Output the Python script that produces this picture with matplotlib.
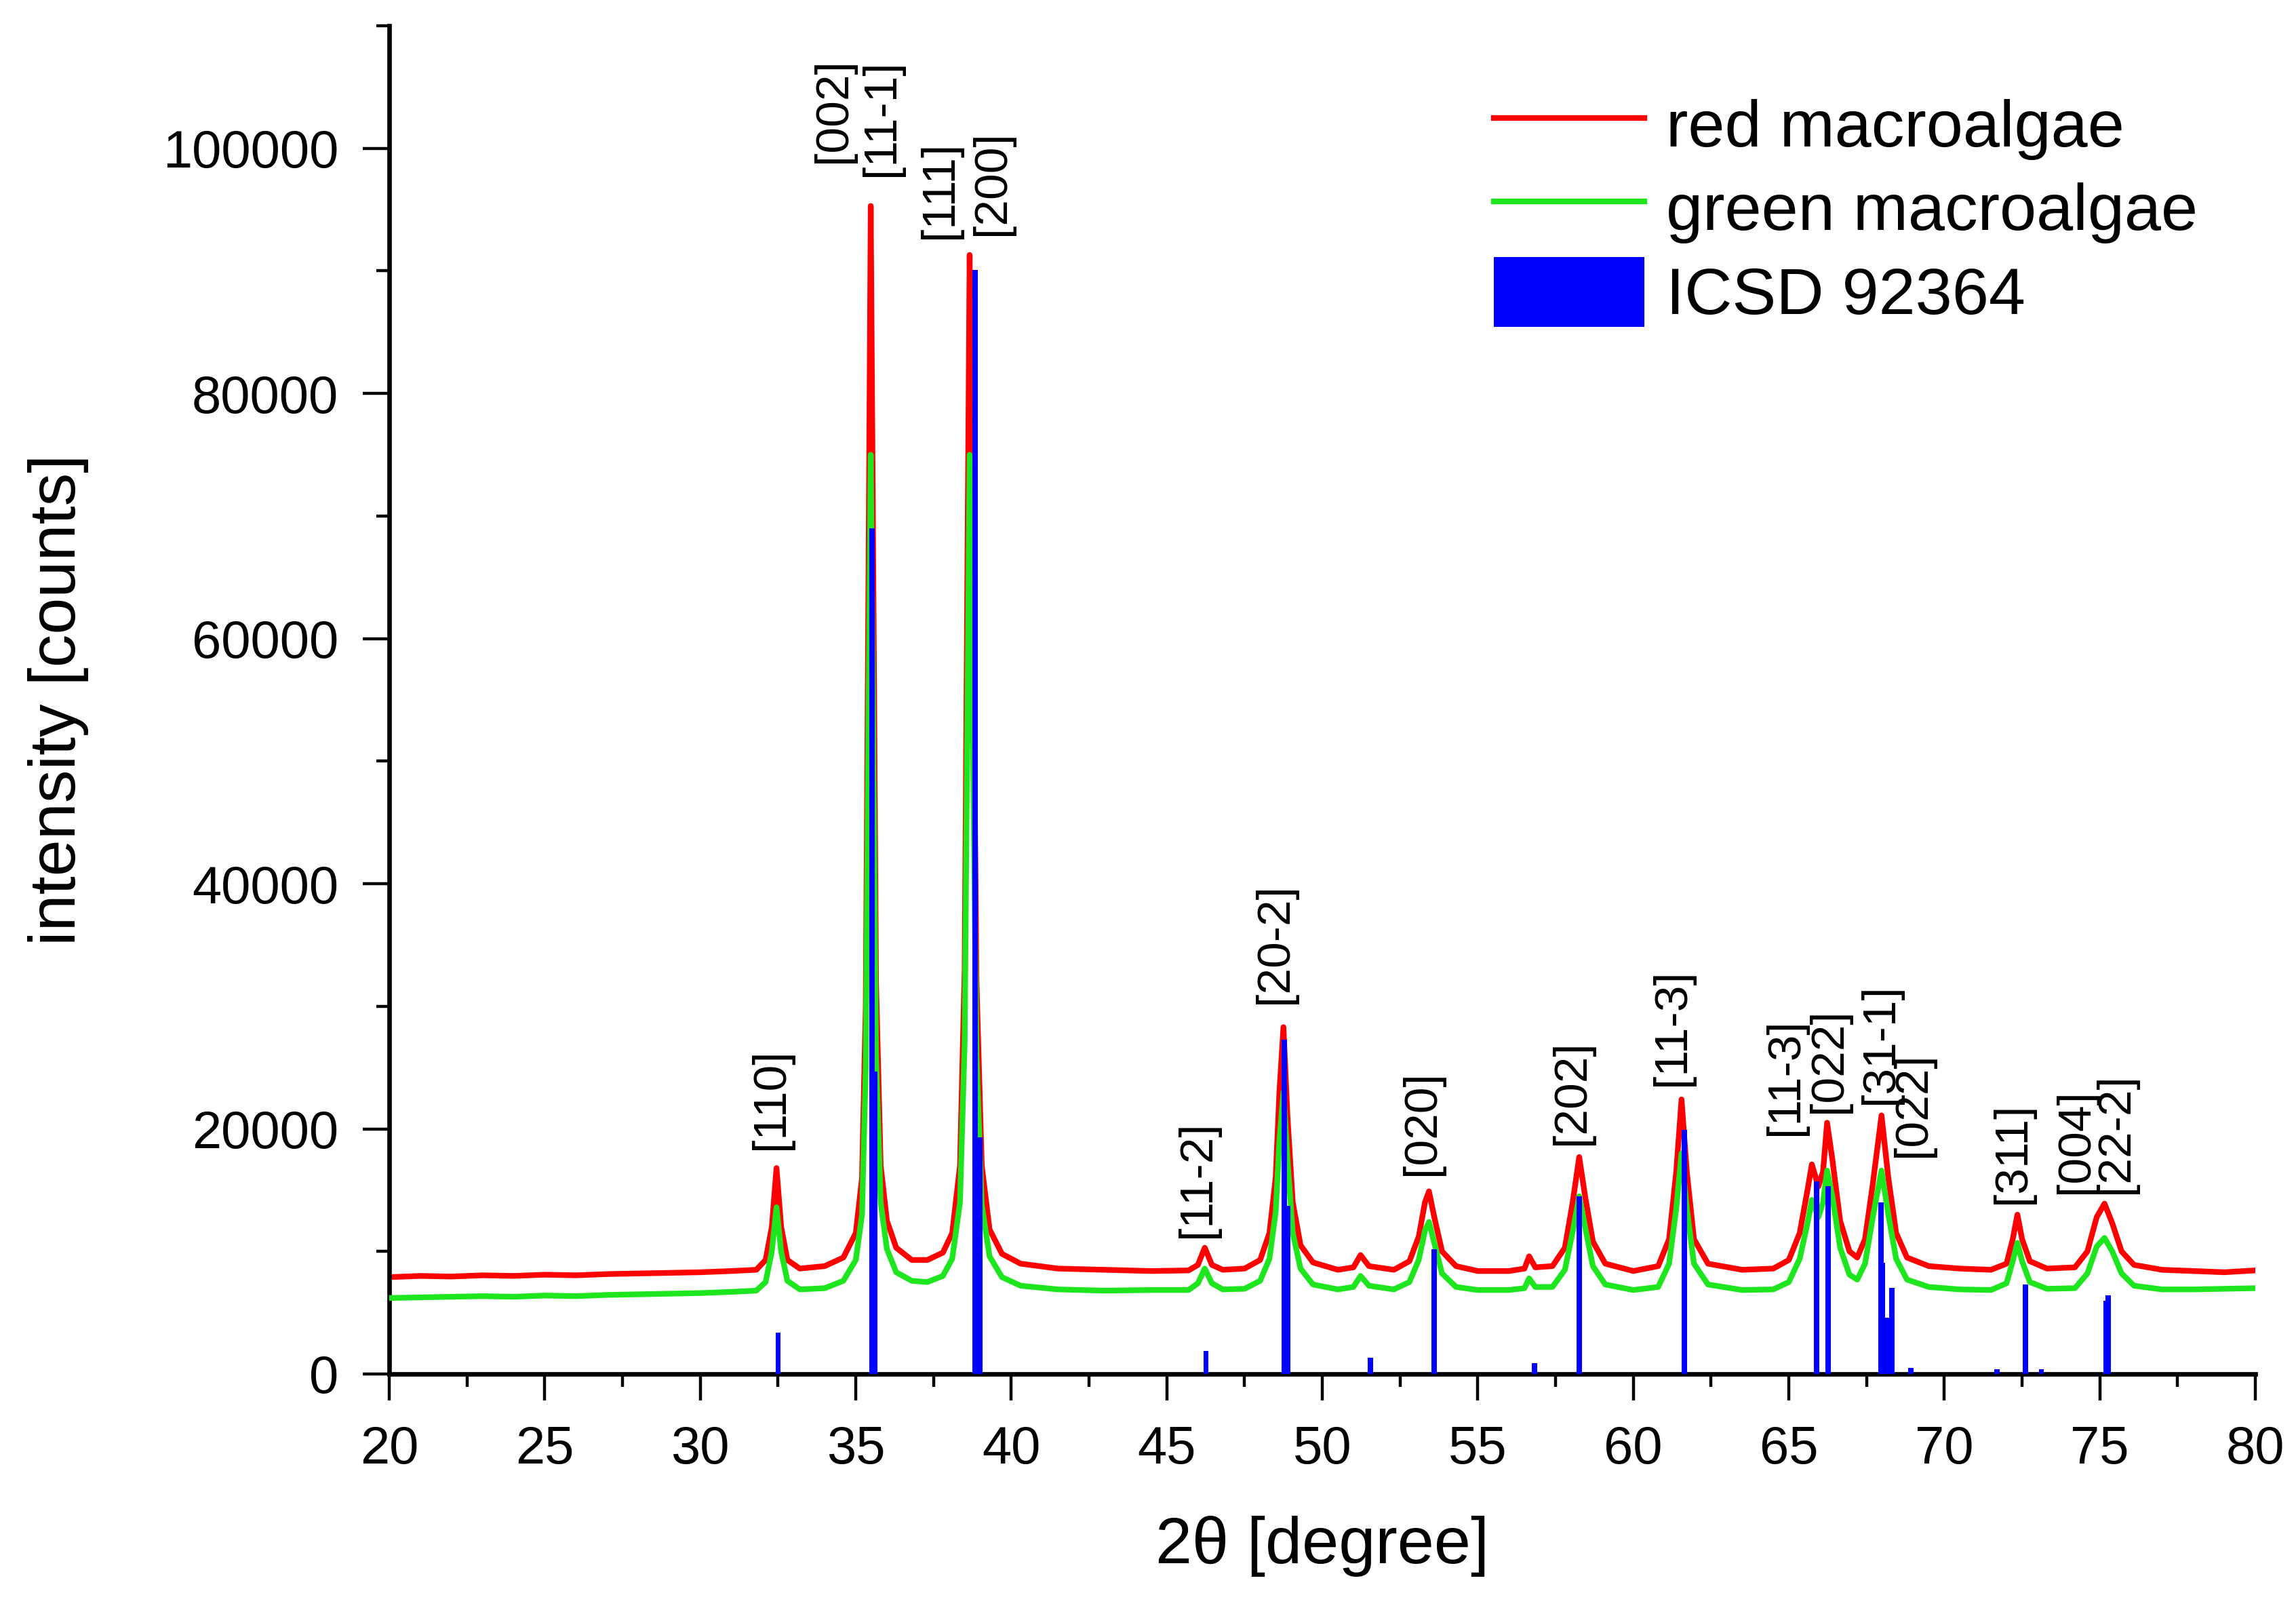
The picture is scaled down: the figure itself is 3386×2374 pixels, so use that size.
import matplotlib
matplotlib.use("Agg")
import matplotlib.pyplot as plt
from matplotlib.ticker import MultipleLocator

plt.rcParams['font.family'] = ['Liberation Sans', 'DejaVu Sans']

# ---- data ----
two_theta = [20.0, 21.0, 22.0, 23.0, 24.0, 25.0, 26.0, 27.0, 28.0, 29.0, 30.0, 31.0, 31.8,
             32.1, 32.3, 32.45, 32.6, 32.8, 33.2, 34.0, 34.6, 35.0, 35.2, 35.32, 35.42, 35.48,
             35.55, 35.65, 35.8, 36.0, 36.3, 36.8, 37.3, 37.8, 38.1, 38.35, 38.5, 38.6, 38.66,
             38.75, 38.88, 39.05, 39.3, 39.7, 40.3, 41.5, 43.0, 44.5, 45.7, 46.0, 46.22, 46.45,
             46.8, 47.5, 48.0, 48.3, 48.5, 48.62, 48.75, 48.88, 49.05, 49.3, 49.7, 50.5, 51.0,
             51.23, 51.5, 52.3, 52.8, 53.1, 53.3, 53.43, 53.6, 53.85, 54.3, 55.0, 56.0, 56.5,
             56.65, 56.85, 57.4, 57.8, 58.05, 58.26, 58.45, 58.7, 59.1, 60.0, 60.8, 61.15, 61.38,
             61.55, 61.72, 61.95, 62.4, 63.5, 64.5, 65.0, 65.35, 65.6, 65.74, 65.95, 66.1, 66.23,
             66.4, 66.65, 66.95, 67.2, 67.45, 67.7, 67.98, 68.2, 68.45, 68.8, 69.5, 70.5, 71.5,
             72.0, 72.2, 72.35, 72.5, 72.75, 73.3, 74.2, 74.6, 74.9, 75.15, 75.4, 75.7, 76.1,
             77.0, 78.0, 79.0, 80.0]

red_counts = [7900, 8000, 7950, 8050, 8000, 8100, 8050, 8150, 8200, 8250, 8300, 8400, 8500,
              9300, 12000, 16800, 12000, 9300, 8600, 8800, 9500, 11500, 16000, 30000, 70000, 95300,
              70000, 32000, 17000, 12500, 10300, 9300, 9300, 9900, 11500, 17000, 33000, 70000, 91300,
              68000, 32000, 17000, 11800, 9800, 9000, 8600, 8500, 8400, 8450, 8900, 10300, 8900,
              8500, 8600, 9300, 11500, 16000, 23000, 28300, 21000, 14000, 10500, 9100, 8500, 8700,
              9700, 8800, 8500, 9200, 11200, 14000, 14900, 12800, 10000, 8800, 8400, 8400, 8600,
              9600, 8700, 8800, 10300, 14000, 17700, 14500, 10800, 9000, 8400, 8800, 11000, 16500,
              22400, 16500, 11000, 9000, 8500, 8600, 9300, 11500, 15000, 17100, 15300, 16500, 20500,
              17500, 12500, 10000, 9500, 11000, 15500, 21100, 16000, 11500, 9500, 8800, 8600, 8500,
              9000, 11000, 13000, 11000, 9200, 8600, 8700, 10000, 12800, 13900, 12300, 10000, 8900,
              8500, 8400, 8300, 8450]

green_counts = [6200, 6250, 6300, 6350, 6300, 6400, 6350, 6450, 6500, 6550, 6600, 6700, 6800,
                7500, 10000, 13600, 10000, 7600, 6900, 7000, 7600, 9300, 13000, 25000, 57000, 75000,
                56000, 26000, 14000, 10200, 8300, 7600, 7500, 8000, 9400, 14000, 27000, 57000, 75000,
                55000, 26000, 13800, 9600, 7900, 7200, 6900, 6800, 6850, 6850, 7400, 8600, 7400,
                6900, 6950, 7600, 9400, 13200, 19000, 23000, 17500, 11500, 8600, 7300, 6900, 7100,
                8000, 7200, 6900, 7500, 9300, 11700, 12400, 10700, 8200, 7100, 6850, 6850, 7000,
                7800, 7100, 7100, 8500, 11600, 14500, 12000, 8800, 7300, 6850, 7100, 9000, 13500,
                18000, 13500, 9000, 7300, 6850, 6900, 7500, 9400, 12300, 14200, 12800, 14000, 16600,
                14500, 10300, 8100, 7700, 9000, 12800, 16600, 13000, 9400, 7700, 7100, 6900, 6850,
                7400, 9200, 10700, 9200, 7500, 6950, 7000, 8200, 10400, 11100, 10000, 8200, 7200,
                6900, 6900, 6950, 7000]

icsd_pos = [32.5, 35.53, 35.62, 38.83, 39.0, 46.26, 48.78, 48.88, 51.54, 53.59, 56.83, 58.26,
            61.64, 65.89, 66.27, 67.97, 68.02, 68.17, 68.32, 68.93, 71.7, 72.6, 73.12, 75.19, 75.27]
icsd_int = [3400, 69000, 24700, 90100, 19300, 1900, 27300, 13700, 1300, 10200, 900, 14500,
            19900, 15700, 15300, 14000, 9100, 4600, 7000, 500, 400, 7300, 400, 6000, 6400]

hkl_labels = ['[110]', '[002]', '[11-1]', '[111]', '[200]', '[11-2]', '[20-2]', '[020]', '[202]',
              '[11-3]', '[11-3]', '[022]', '[31-1]', '[022]', '[311]', '[004]', '[22-2]']
hkl_x = [32.28, 34.27, 35.82, 37.71, 39.37, 45.98, 48.48, 53.21, 58.03, 61.24, 64.88, 66.29,
         67.95, 68.98, 72.2, 74.23, 75.5]
hkl_y = [18300, 98800, 97700, 92600, 92900, 11100, 30200, 16200, 18700, 23500, 19500, 21300,
         22000, 17700, 13900, 14700, 14700]

series_names = ['red macroalgae', 'green macroalgae', 'ICSD 92364']

# ---- figure ----
fig = plt.figure(figsize=(16.935, 11.87), dpi=200)
ax = fig.add_axes([0.1695, 0.1466, 0.8125, 0.8374])

l_red, = ax.plot(two_theta, red_counts, color='#FF0000', lw=3.0, zorder=2)
l_green, = ax.plot(two_theta, green_counts, color='#1EE61E', lw=3.0, zorder=3)
bars = ax.bar(icsd_pos, icsd_int, width=0.17, color='#0000FF', linewidth=0, zorder=4)

for lab, x, y in zip(hkl_labels, hkl_x, hkl_y):
    ax.text(x, y, lab, rotation=90, ha='center', va='bottom', fontsize=25, color='black')

ax.set_xlim(20, 80)
ax.set_ylim(0, 110000)
ax.xaxis.set_major_locator(MultipleLocator(5))
ax.xaxis.set_minor_locator(MultipleLocator(2.5))
ax.yaxis.set_minor_locator(MultipleLocator(10000))
ax.set_yticks([0, 20000, 40000, 60000, 80000, 100000])
ax.set_yticklabels(['0', '20000', '40000', '60000', '80000', '100000'])

for s in ['top', 'right']:
    ax.spines[s].set_visible(False)
for s in ['left', 'bottom']:
    ax.spines[s].set_linewidth(2.4)

ax.tick_params(axis='both', which='major', direction='out', length=14, width=1.6,
               labelsize=28, pad=13)
ax.tick_params(axis='both', which='minor', direction='out', length=7, width=1.6)

ax.set_xlabel('2θ [degree]', fontsize=35)
ax.set_ylabel('intensity [counts]', fontsize=35)
ax.xaxis.set_label_coords(0.5, -0.105)
ax.yaxis.set_label_coords(-0.161, 0.5)

leg = ax.legend([l_red, l_green, bars], series_names, loc='upper left',
                bbox_to_anchor=(0.6504, 0.9445), bbox_transform=fig.transFigure,
                frameon=False, fontsize=35, borderpad=0, borderaxespad=0,
                handlelength=2.28, handleheight=1.25, handletextpad=0.33, labelspacing=0.2)

fig.savefig('out.png', dpi=200)
